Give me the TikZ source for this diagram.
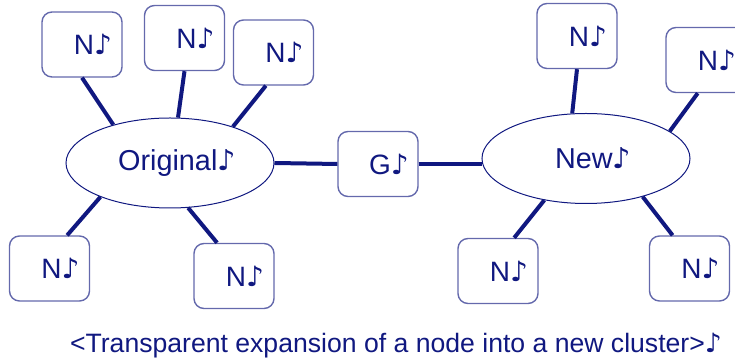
\documentclass[tikz,border=0pt]{standalone}
\usepackage{fontspec}
\setmainfont{Liberation Sans}
\newfontfamily\notefont{DejaVu Sans}
\newcommand{\nt}{{\notefont ♪}}
\usepackage{tikz}
\usetikzlibrary{shapes.geometric}
\definecolor{navy}{RGB}{16,24,128}
\tikzstyle{box}=[draw=navy!65,line width=0.7pt,rounded corners=5pt,minimum width=40pt,minimum height=32.5pt,inner sep=0pt,text=navy,font=\fontsize{14}{16}\selectfont,execute at begin node=\hspace{11pt}]
\tikzstyle{cluster}=[draw=navy,line width=0.5pt,ellipse,minimum width=104pt,minimum height=45pt,inner sep=0pt,text=navy,font=\fontsize{14.4}{16}\selectfont,execute at begin node=\hspace{7pt}]

\begin{document}
\begin{tikzpicture}[x=0.5pt,y=-0.5pt,link/.style={draw=navy,line width=2pt}]
\useasboundingbox (0,0) rectangle (735,362);

% the original cluster and its nodes
\node [cluster] (orig) at (170,163) {Original\nt};
\node [box] (o1) at (82,44.5) {N\nt};
\node [box] (o2) at (184.5,38) {N\nt};
\node [box] (o3) at (273.5,52.5) {N\nt};
\node [box] (o4) at (49.5,268.5) {N\nt};
\node [box] (o5) at (234,276) {N\nt};

% gateway
\node [box] (g) at (378,164) {G\nt};

% the new cluster
\node [cluster] (new) at (586,158.5) {New\nt};
\node [box] (n1) at (577,36) {N\nt};
\node [box] (n2) at (706,60) {N\nt};
\node [box] (n3) at (498,271) {N\nt};
\node [box] (n4) at (689.5,268.5) {N\nt};

\draw [link] (o1.south) -- (orig.146);
\draw [link] (o2.south) -- (orig.80);
\draw [link] (o3.257) -- (orig.30);
\draw [link] (o4.62) -- (orig.206);
\draw [link] (o5.117) -- (orig.292);
\draw [link] (orig.east) -- (g.west);
\draw [link] (g.east) -- (g.east -| new.west);
\draw [link] (n1.south) -- (new.107);
\draw [link] (n2.256) -- (new.18);
\draw [link] (n3.64) -- (new.225);
\draw [link] (n4.117) -- (new.326);

\node (cap) [anchor=base,text=navy,font=\fontsize{13.3}{16}\selectfont] at (396,353) {<Transparent expansion of a node into a new cluster>\nt};
\end{tikzpicture}
\end{document}
